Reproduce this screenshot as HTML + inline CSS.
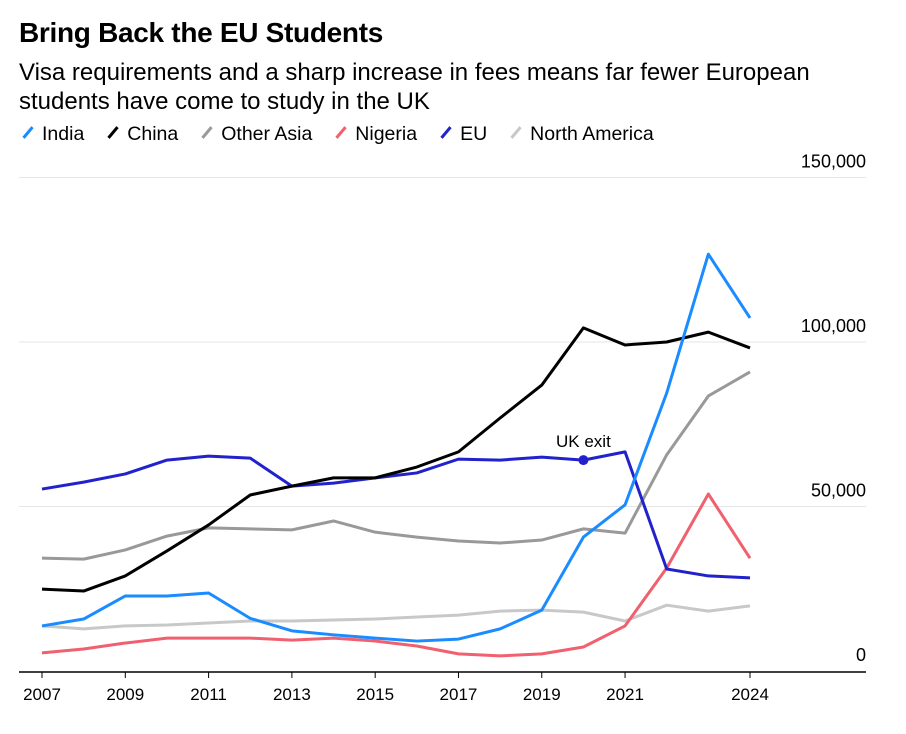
<!DOCTYPE html>
<html><head><meta charset="utf-8">
<style>
body{margin:0;background:#fff;font-family:"Liberation Sans",Arial,sans-serif;}
#wrap{position:relative;width:906px;height:734px;overflow:hidden;}
h1{position:absolute;left:19px;top:17px;margin:0;font-size:28px;font-weight:bold;color:#000;letter-spacing:-0.3px}
.sub{position:absolute;left:19px;top:58px;width:880px;font-size:24px;line-height:29px;color:#000}
.legend{position:absolute;left:19px;top:123px;font-size:19.5px;color:#000;display:flex;gap:0}
.legend span{margin-right:20px;white-space:nowrap}
.legend i{display:inline-block;width:14px;height:3px;transform:rotate(-50deg);margin:0 7px 5px 2px;vertical-align:middle}
svg{position:absolute;left:0;top:0}
</style></head><body>
<div id="wrap">
<h1>Bring Back the EU Students</h1>
<div class="sub">Visa requirements and a sharp increase in fees means far fewer European<br>students have come to study in the UK</div>
<div class="legend">
<span><i style="background:#1a8cff"></i>India</span>
<span><i style="background:#000"></i>China</span>
<span><i style="background:#999"></i>Other Asia</span>
<span><i style="background:#f0606e"></i>Nigeria</span>
<span><i style="background:#2222cc"></i>EU</span>
<span><i style="background:#c8c8c8"></i>North America</span>
</div>
<svg id="c" width="906" height="734"></svg>
</div>
<script>
const years=[2007,2008,2009,2010,2011,2012,2013,2014,2015,2016,2017,2018,2019,2020,2021,2022,2023,2024];
const xTicks=[2007,2009,2011,2013,2015,2017,2019,2021,2024];
const yTicks=[0,50000,100000,150000];
const northAmerica=[13.7,12.8,13.7,14,14.6,15.2,15.2,15.5,15.8,16.4,17,18.2,18.5,17.9,15.2,20,18.2,19.8];
const otherAsia=[34.3,34,36.8,41,43.5,43.2,42.9,45.6,42.2,40.7,39.5,38.9,39.8,43.2,41.9,65.7,83.6,90.9];
const nigeria=[5.5,6.7,8.5,10,10,10,9.4,10,9.1,7.6,5.2,4.6,5.2,7.3,13.7,31.3,53.8,34.3];
const eu=[55.3,57.4,59.9,64.1,65.3,64.7,56.2,57.1,58.7,60.2,64.4,64.1,65,64.1,66.6,31,28.9,28.3];
const china=[24.9,24.3,28.9,36.5,44.4,53.5,56.2,58.7,58.7,62,66.6,76.9,86.9,104.3,99.1,100,103,98.2];
const india=[13.7,15.8,22.8,22.8,23.7,16,12.2,11,10,9.1,9.7,12.8,18.5,40.7,50.5,84.5,126.7,107.3];
const series=[["north-america",northAmerica,"#c8c8c8"],["other-asia",otherAsia,"#999999"],["nigeria",nigeria,"#f0606e"],["eu",eu,"#2222cc"],["china",china,"#000000"],["india",india,"#1a8cff"]];
const x=y=>42+(y-2007)*(708/17);
const yv=v=>671-v*164.5/50000;
const svg=document.getElementById('c');const NS='http://www.w3.org/2000/svg';
function mk(t,a){const e=document.createElementNS(NS,t);for(const k in a)e.setAttribute(k,a[k]);svg.appendChild(e);return e;}
yTicks.forEach(t=>{
 if(t>0){const g=mk('line',{x1:19,x2:866,y1:yv(t),y2:yv(t),stroke:'#e6e6e6','stroke-width':1});
 
 }
 const l=mk('text',{x:866,y:yv(t)-10,'text-anchor':'end','font-size':18,fill:'#000'});
 l.textContent=t.toLocaleString('en-US');
 
 
});
const ax=mk('line',{x1:19,x2:866,y1:672,y2:672,stroke:'#000','stroke-width':1.5});


xTicks.forEach(t=>{
 const k=mk('line',{x1:x(t),x2:x(t),y1:672,y2:678,stroke:'#000'});
 
 
 const l=mk('text',{x:x(t),y:700,'text-anchor':'middle','font-size':17,fill:'#000'});
 l.textContent=t;
 
 
});
series.forEach(([n,d,c])=>{
 const p=mk('polyline',{points:d.map((v,i)=>x(years[i])+','+yv(v*1000)).join(' '),fill:'none',stroke:c,'stroke-width':3,'stroke-linejoin':'round'});
 
 
});
const ui=years.indexOf(2020);
const dot=mk('circle',{cx:x(2020),cy:yv(eu[ui]*1000),r:5,fill:'#2222cc'});


const at=mk('text',{x:x(2020),y:yv(eu[ui]*1000)-13,'text-anchor':'middle','font-size':17,fill:'#000'});
at.textContent='UK exit';


</script>
</body></html>
